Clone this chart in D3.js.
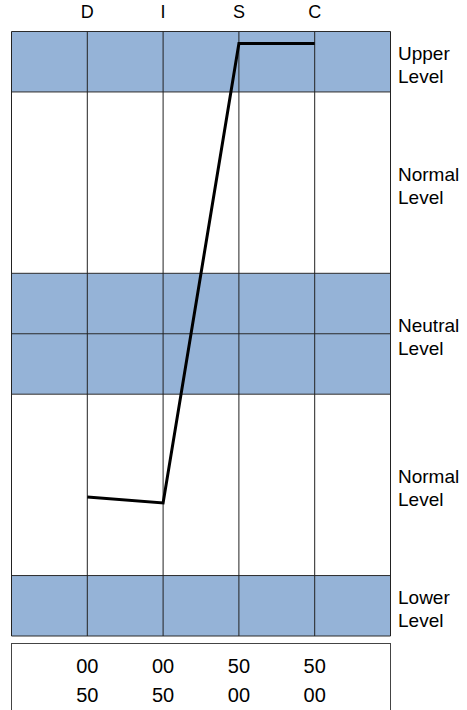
<!DOCTYPE html>
<html>
<head>
<meta charset="utf-8">
<script src="https://cdn.jsdelivr.net/npm/d3@7"></script>
<style>
  html, body { margin: 0; padding: 0; background: #fff; }
  svg { display: block; }
  text { font-family: "Liberation Sans", Arial, sans-serif; fill: #000; }
</style>
</head>
<body>
<svg id="chart" width="467" height="710"></svg>
<script>
// ---- data ----
const categories = ["D", "I", "S", "C"];
const values = [2.3, 2.2, 9.8, 9.8];
const bandFrom = [9, 6, 4, 1, 0];
const bandTo = [10, 9, 6, 4, 1];
const bandShaded = [true, false, true, false, true];
const bandLabels = [["Upper", "Level"], ["Normal", "Level"], ["Neutral", "Level"], ["Normal", "Level"], ["Lower", "Level"]];
const gridLevels = [0, 1, 4, 5, 6, 9, 10];
const scoreRow1 = ["00", "00", "50", "50"];
const scoreRow2 = ["50", "50", "00", "00"];

// ---- layout ----
const svg = d3.select("#chart");
const pLeft = 11.5, pRight = 390.5, pTop = 31.5, pBottom = 636;
const colSlots = ["", ...categories];
const x = d3.scalePoint().domain([...colSlots, " "]).range([pLeft, pRight]);
const y = d3.scaleLinear().domain([0, 10]).range([pBottom, pTop]);

// bands
svg.append("g").selectAll("rect")
  .data(bandFrom.map((f, i) => ({ from: f, to: bandTo[i], shaded: bandShaded[i] })))
  .join("rect")
  .attr("x", pLeft).attr("width", pRight - pLeft)
  .attr("y", d => y(d.to)).attr("height", d => y(d.from) - y(d.to))
  .attr("fill", d => d.shaded ? "#95b3d7" : "#ffffff");

// horizontal grid lines
svg.append("g").selectAll("line")
  .data(gridLevels)
  .join("line")
  .attr("x1", pLeft).attr("x2", pRight)
  .attr("y1", d => y(d)).attr("y2", d => y(d))
  .attr("stroke", "#2b2b2b").attr("stroke-width", 1);

// vertical column lines
svg.append("g").selectAll("line")
  .data([...colSlots, " "])
  .join("line")
  .attr("x1", d => x(d)).attr("x2", d => x(d))
  .attr("y1", pTop).attr("y2", pBottom)
  .attr("stroke", "#222").attr("stroke-width", 1);

// column labels
svg.append("g").selectAll("text")
  .data(categories)
  .join("text")
  .attr("x", d => x(d)).attr("y", 18.3)
  .attr("text-anchor", "middle")
  .style("font-size", "18px")
  .text(d => d);

// band labels
const bl = svg.append("g").selectAll("text")
  .data(bandLabels.map((l, i) => ({ lines: l, mid: (bandFrom[i] + bandTo[i]) / 2 })))
  .join("text")
  .attr("x", 398)
  .attr("y", d => y(d.mid))
  .style("font-size", "19px");
bl.each(function(d) {
  const t = d3.select(this);
  d.lines.forEach((ln, j) => {
    t.append("tspan").attr("x", 398)
      .attr("dy", j === 0 ? "-0.1em" : "1.2em")
      .text(ln);
  });
});

// profile line
const line = d3.line()
  .x((d, i) => x(categories[i]))
  .y(d => y(d));
svg.append("path")
  .datum(values)
  .attr("d", line)
  .attr("fill", "none")
  .attr("stroke", "#000")
  .attr("stroke-width", 3)
  .attr("stroke-linejoin", "miter");

// score box
svg.append("rect")
  .attr("x", pLeft).attr("y", 643.5)
  .attr("width", pRight - pLeft).attr("height", 80)
  .attr("fill", "#fff").attr("stroke", "#444").attr("stroke-width", 1);

svg.append("g").selectAll("text")
  .data(categories)
  .join("text")
  .attr("x", d => x(d)).attr("y", 673)
  .attr("text-anchor", "middle")
  .style("font-size", "20px")
  .text((d, i) => scoreRow1[i]);

svg.append("g").selectAll("text")
  .data(categories)
  .join("text")
  .attr("x", d => x(d)).attr("y", 701.5)
  .attr("text-anchor", "middle")
  .style("font-size", "20px")
  .text((d, i) => scoreRow2[i]);
</script>
</body>
</html>
